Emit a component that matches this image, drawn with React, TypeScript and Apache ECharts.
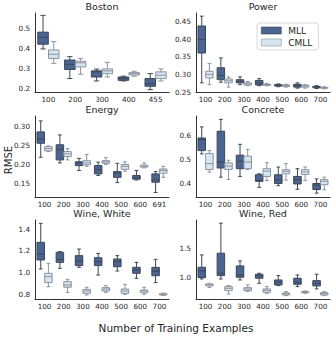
import React, { useEffect, useRef } from 'react';
import * as echarts from 'echarts';

// Category labels
const bostonCats = ['100', '200', '300', '400', '455'];
const powerCats = ['100', '200', '300', '400', '500', '600', '700'];
const energyCats = ['100', '200', '300', '400', '500', '600', '691'];
const concreteCats = ['100', '200', '300', '400', '500', '600', '700'];
const wineWhiteCats = ['100', '200', '300', '400', '500', '600', '700'];
const wineRedCats = ['100', '200', '300', '400', '500', '600', '700'];

// Box stats: [min, Q1, median, Q3, max]
const bostonMLL = [
  [0.398, 0.422, 0.457, 0.483, 0.568],
  [0.248, 0.294, 0.32, 0.342, 0.359],
  [0.236, 0.256, 0.282, 0.287, 0.296],
  [0.236, 0.239, 0.248, 0.256, 0.26],
  [0.192, 0.209, 0.222, 0.248, 0.273],
];
const bostonCMLL = [
  [0.325, 0.35, 0.371, 0.393, 0.435],
  [0.27, 0.307, 0.328, 0.336, 0.35],
  [0.256, 0.273, 0.287, 0.297, 0.33],
  [0.26, 0.266, 0.273, 0.278, 0.285],
  [0.236, 0.248, 0.265, 0.282, 0.297],
];
const powerMLL = [
  [0.276, 0.361, 0.4, 0.438, 0.466],
  [0.278, 0.285, 0.297, 0.319, 0.347],
  [0.271, 0.276, 0.28, 0.285, 0.293],
  [0.268, 0.27, 0.276, 0.283, 0.288],
  [0.265, 0.267, 0.269, 0.271, 0.273],
  [0.261, 0.264, 0.268, 0.272, 0.276],
  [0.26, 0.262, 0.264, 0.266, 0.268],
];
const powerCMLL = [
  [0.271, 0.29, 0.3, 0.309, 0.331],
  [0.264, 0.276, 0.282, 0.287, 0.293],
  [0.268, 0.27, 0.273, 0.276, 0.28],
  [0.268, 0.269, 0.271, 0.272, 0.274],
  [0.264, 0.266, 0.268, 0.27, 0.272],
  [0.261, 0.264, 0.267, 0.269, 0.271],
  [0.259, 0.261, 0.262, 0.263, 0.265],
];
const energyMLL = [
  [0.22, 0.257, 0.268, 0.287, 0.316],
  [0.205, 0.213, 0.241, 0.253, 0.279],
  [0.185, 0.198, 0.205, 0.208, 0.217],
  [0.172, 0.176, 0.187, 0.198, 0.207],
  [0.153, 0.167, 0.178, 0.182, 0.204],
  [0.16, 0.162, 0.167, 0.172, 0.185],
  [0.127, 0.154, 0.16, 0.176, 0.182],
];
const energyCMLL = [
  [0.235, 0.237, 0.243, 0.248, 0.25],
  [0.213, 0.222, 0.229, 0.235, 0.243],
  [0.196, 0.2, 0.205, 0.211, 0.227],
  [0.201, 0.204, 0.208, 0.211, 0.219],
  [0.183, 0.188, 0.196, 0.201, 0.208],
  [0.192, 0.194, 0.197, 0.199, 0.205],
  [0.167, 0.178, 0.185, 0.189, 0.196],
];
const concreteMLL = [
  [0.523, 0.537, 0.582, 0.589, 0.635],
  [0.427, 0.465, 0.49, 0.617, 0.666],
  [0.43, 0.462, 0.493, 0.518, 0.563],
  [0.385, 0.41, 0.413, 0.437, 0.441],
  [0.392, 0.401, 0.415, 0.437, 0.469],
  [0.377, 0.399, 0.417, 0.43, 0.462],
  [0.361, 0.376, 0.394, 0.401, 0.42],
];
const concreteCMLL = [
  [0.448, 0.459, 0.483, 0.525, 0.537],
  [0.417, 0.459, 0.473, 0.486, 0.497],
  [0.459, 0.462, 0.49, 0.514, 0.542],
  [0.413, 0.43, 0.452, 0.462, 0.487],
  [0.415, 0.441, 0.451, 0.458, 0.483],
  [0.413, 0.438, 0.449, 0.458, 0.469],
  [0.375, 0.396, 0.41, 0.417, 0.427],
];
const wineWhiteMLL = [
  [1.034, 1.117, 1.172, 1.28, 1.455],
  [1.04, 1.095, 1.123, 1.188, 1.194],
  [1.049, 1.065, 1.108, 1.157, 1.218],
  [0.978, 1.065, 1.102, 1.138, 1.178],
  [1.015, 1.055, 1.102, 1.126, 1.157],
  [0.948, 0.994, 1.025, 1.049, 1.095],
  [0.908, 0.972, 1.015, 1.049, 1.123],
];
const wineWhiteCMLL = [
  [0.871, 0.908, 0.963, 0.994, 1.086],
  [0.818, 0.865, 0.886, 0.917, 0.938],
  [0.794, 0.809, 0.831, 0.846, 0.865],
  [0.818, 0.831, 0.849, 0.862, 0.88],
  [0.8, 0.809, 0.831, 0.849, 0.892],
  [0.8, 0.815, 0.831, 0.84, 0.865],
  [0.791, 0.794, 0.8, 0.806, 0.812],
];
const wineRedMLL = [
  [0.977, 1.0, 1.114, 1.176, 1.386],
  [0.977, 1.034, 1.074, 1.415, 1.926],
  [0.96, 1.006, 1.045, 1.199, 1.284],
  [0.903, 0.989, 1.028, 1.057, 1.074],
  [0.864, 0.875, 0.92, 0.96, 1.034],
  [0.847, 0.886, 0.92, 0.989, 1.045],
  [0.807, 0.858, 0.903, 0.949, 1.057],
];
const wineRedCMLL = [
  [0.83, 0.858, 0.875, 0.892, 0.903],
  [0.722, 0.778, 0.818, 0.847, 0.864],
  [0.767, 0.778, 0.807, 0.83, 0.875],
  [0.733, 0.75, 0.784, 0.807, 0.847],
  [0.693, 0.705, 0.727, 0.739, 0.761],
  [0.733, 0.744, 0.756, 0.761, 0.773],
  [0.693, 0.705, 0.727, 0.744, 0.761],
];

// Y tick labels
const bostonTicks = [0.2, 0.3, 0.4, 0.5];
const powerTicks = [0.25, 0.3, 0.35, 0.4, 0.45];
const energyTicks = [0.15, 0.2, 0.25, 0.3];
const concreteTicks = [0.4, 0.5, 0.6];
const wineWhiteTicks = [0.8, 1.0, 1.2, 1.4];
const wineRedTicks = [1.0, 1.5];

const panelTitles = ['Boston', 'Power', 'Energy', 'Concrete', 'Wine, White', 'Wine, Red'];
const seriesNames = ['MLL', 'CMLL'];

const FONT = "'DejaVu Sans', sans-serif";
const TEXT = '#262626';
const MLL_COLOR = '#4b6592';
const CMLL_COLOR = '#d5e5f2';
const MLL_EDGE = '#3d4655';
const CMLL_EDGE = '#8c949e';

function makeRenderItem(side: number, fill: string, edge: string) {
  return (params: any, api: any) => {
    const cat = api.value(0);
    const band = api.size([1, 0])[0];
    const cx = api.coord([cat, 0])[0] + side * 0.2 * band;
    const w = 0.392 * band;
    const yMin = api.coord([cat, api.value(1)])[1];
    const yQ1 = api.coord([cat, api.value(2)])[1];
    const yMed = api.coord([cat, api.value(3)])[1];
    const yQ3 = api.coord([cat, api.value(4)])[1];
    const yMax = api.coord([cat, api.value(5)])[1];
    const cap = w / 4;
    const ls = { stroke: edge, lineWidth: 1 };
    return {
      type: 'group',
      children: [
        { type: 'line', shape: { x1: cx, y1: yQ3, x2: cx, y2: yMax }, style: ls },
        { type: 'line', shape: { x1: cx, y1: yQ1, x2: cx, y2: yMin }, style: ls },
        { type: 'line', shape: { x1: cx - cap, y1: yMax, x2: cx + cap, y2: yMax }, style: ls },
        { type: 'line', shape: { x1: cx - cap, y1: yMin, x2: cx + cap, y2: yMin }, style: ls },
        {
          type: 'rect',
          shape: { x: cx - w / 2, y: yQ3, width: w, height: yQ1 - yQ3 },
          style: { fill, stroke: edge, lineWidth: 1 },
        },
        { type: 'line', shape: { x1: cx - w / 2, y1: yMed, x2: cx + w / 2, y2: yMed }, style: ls },
      ],
    };
  };
}

export default function App() {
  const ref = useRef<HTMLDivElement>(null);

  useEffect(() => {
    if (!ref.current) return;
    const chart = echarts.init(ref.current, undefined, { renderer: 'svg' });

    const panels = [
      { cats: bostonCats, mll: bostonMLL, cmll: bostonCMLL, ticks: bostonTicks, min: 0.18, max: 0.58, dec: 1 },
      { cats: powerCats, mll: powerMLL, cmll: powerCMLL, ticks: powerTicks, min: 0.25, max: 0.475, dec: 2 },
      { cats: energyCats, mll: energyMLL, cmll: energyCMLL, ticks: energyTicks, min: 0.115, max: 0.329, dec: 2 },
      { cats: concreteCats, mll: concreteMLL, cmll: concreteCMLL, ticks: concreteTicks, min: 0.345, max: 0.68, dec: 1 },
      { cats: wineWhiteCats, mll: wineWhiteMLL, cmll: wineWhiteCMLL, ticks: wineWhiteTicks, min: 0.757, max: 1.486, dec: 1 },
      { cats: wineRedCats, mll: wineRedMLL, cmll: wineRedCMLL, ticks: wineRedTicks, min: 0.636, max: 1.98, dec: 1 },
    ];

    const colLeft = [35, 196];
    const rowTop = [13, 116, 220];
    const rowHeight = [79, 81, 79];
    const gridWidth = 134;
    const titleTop = [1, 104, 208];

    const grids: any[] = [];
    const xAxes: any[] = [];
    const yAxes: any[] = [];
    const series: any[] = [];
    const titles: any[] = [];

    panels.forEach((p, i) => {
      const col = i % 2;
      const row = Math.floor(i / 2);
      grids.push({ left: colLeft[col], top: rowTop[row], width: gridWidth, height: rowHeight[row], containLabel: false });
      titles.push({
        text: panelTitles[i],
        left: colLeft[col] + gridWidth / 2,
        top: titleTop[row],
        textAlign: 'center',
        textStyle: { fontFamily: FONT, fontSize: 9.5, fontWeight: 'normal', color: TEXT },
        padding: 0,
      });
      xAxes.push({
        type: 'category',
        gridIndex: i,
        data: p.cats,
        axisLine: { show: true, lineStyle: { color: '#333', width: 1 } },
        axisTick: { show: false },
        axisLabel: { fontFamily: FONT, fontSize: 7.2, color: TEXT, margin: 4, interval: 0 },
        splitLine: { show: false },
      });
      yAxes.push({
        type: 'value',
        gridIndex: i,
        min: p.min,
        max: p.max,
        axisLine: { show: true, lineStyle: { color: '#333', width: 1 } },
        axisTick: { show: false },
        splitLine: { show: false },
        axisLabel: {
          fontFamily: FONT,
          fontSize: 7.2,
          color: TEXT,
          margin: 5,
          customValues: p.ticks,
          formatter: (v: number) => v.toFixed(p.dec),
        },
      });
      const defs = [
        { name: seriesNames[0], rows: p.mll, side: -1, fill: MLL_COLOR, edge: MLL_EDGE },
        { name: seriesNames[1], rows: p.cmll, side: 1, fill: CMLL_COLOR, edge: CMLL_EDGE },
      ];
      defs.forEach((d) => {
        series.push({
          type: 'custom',
          name: d.name,
          xAxisIndex: i,
          yAxisIndex: i,
          data: d.rows.map((r, k) => [k, ...r]),
          encode: { x: 0, y: [1, 2, 3, 4, 5] },
          itemStyle: { color: d.fill, borderColor: d.edge },
          renderItem: makeRenderItem(d.side, d.fill, d.edge),
          emphasis: { disabled: true },
          silent: true,
        });
      });
    });

    chart.setOption({
      animation: false,
      backgroundColor: '#ffffff',
      title: titles,
      grid: grids,
      xAxis: xAxes,
      yAxis: yAxes,
      series,
      legend: {
        orient: 'vertical',
        left: 257,
        top: 23,
        padding: [3, 6, 3, 4],
        itemGap: 3,
        itemWidth: 20,
        itemHeight: 7,
        backgroundColor: '#ffffff',
        borderColor: '#d9d9d9',
        borderWidth: 1,
        borderRadius: 3,
        icon: 'rect',
        textStyle: { fontFamily: FONT, fontSize: 9, color: TEXT, padding: [0, 0, 0, 2] },
        data: [
          { name: 'MLL', itemStyle: { color: MLL_COLOR, borderColor: MLL_EDGE, borderWidth: 0.6 } },
          { name: 'CMLL', itemStyle: { color: CMLL_COLOR, borderColor: CMLL_EDGE, borderWidth: 0.6 } },
        ],
        selectedMode: false,
      },
      graphic: [
        {
          type: 'text',
          x: 8,
          y: 160,
          rotation: Math.PI / 2,
          style: {
            text: 'RMSE',
            fontFamily: FONT,
            fontSize: 10,
            fill: TEXT,
            textAlign: 'center',
            textVerticalAlign: 'middle',
          },
        },
        {
          type: 'text',
          x: 176,
          y: 328,
          style: {
            text: 'Number of Training Examples',
            fontFamily: FONT,
            fontSize: 10.5,
            fill: TEXT,
            textAlign: 'center',
            textVerticalAlign: 'middle',
          },
        },
      ],
    });

    return () => chart.dispose();
  }, []);

  return (
    <div
      ref={ref}
      style={{ position: 'absolute', left: 0, top: 0, width: 333, height: 337 }}
    />
  );
}
